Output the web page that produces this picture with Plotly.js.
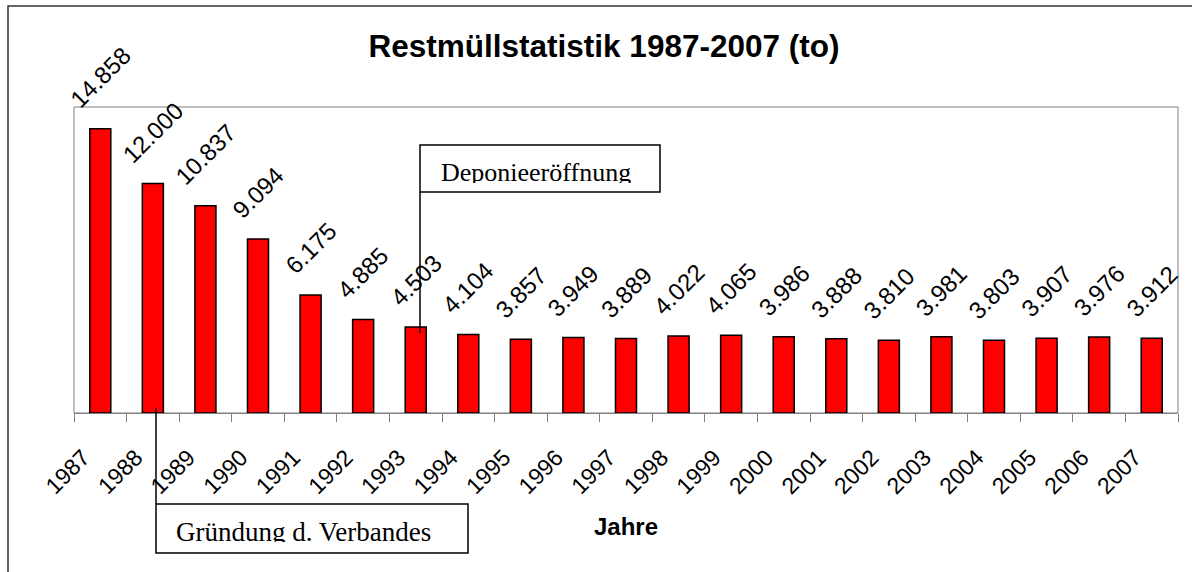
<!DOCTYPE html>
<html>
<head>
<meta charset="utf-8">
<script src="https://cdn.plot.ly/plotly-3.0.1.min.js"></script>
<style>html,body{margin:0;padding:0;background:#fff;}#chart{width:1192px;height:572px;}</style>
</head>
<body>
<div id="chart"></div>
<script>
// ---- data ----
const years = ["1987","1988","1989","1990","1991","1992","1993","1994","1995","1996","1997",
               "1998","1999","2000","2001","2002","2003","2004","2005","2006","2007"];
const restmuell = [14858, 12000, 10837, 9094, 6175, 4885, 4503, 4104, 3857, 3949, 3889,
                   4022, 4065, 3986, 3888, 3810, 3981, 3803, 3907, 3976, 3912];
const chartTitle = "Restmüllstatistik 1987-2007 (to)";
const xTitle = "Jahre";
const noteDeponie = "Deponieeröffnung";
const noteVerband = "Gründung d. Verbandes";

// ---- helpers ----
const SANS = "Liberation Sans, Arial, sans-serif";
const SERIF = "Liberation Serif, Times New Roman, serif";
const fmt = v => String(v).replace(/\B(?=(\d{3})+(?!\d))/g, ".");

// plot area in px: x 74..1178, y 107..413
const PL = 74, PW = 1104, PB = 413, PH = 306;
const px = x => (x - PL) / PW;
const py = y => (PB - y) / PH;

const trace = {
  type: "bar",
  x: years,
  y: restmuell,
  marker: {color: "#ff0000", line: {color: "#000000", width: 1.5}},
  hoverinfo: "skip"
};

// category axis: annotation x given as category index
const valueLabels = years.map((yr, i) => ({
  x: i, y: restmuell[i], xref: "x", yref: "y",
  text: fmt(restmuell[i]), showarrow: false, textangle: -45,
  xanchor: "center", yanchor: "bottom", yshift: 13,
  font: {family: SANS, size: 24, color: "#000"}
}));

const noteLabels = [
  {xref: "paper", yref: "paper", x: px(440), y: py(157), xanchor: "left", yanchor: "top",
   text: noteDeponie, showarrow: false, height: 25, valign: "top", borderpad: 0,
   font: {family: SERIF, size: 26, color: "#000"}},
  {xref: "paper", yref: "paper", x: px(175), y: py(516), xanchor: "left", yanchor: "top",
   text: noteVerband, showarrow: false, height: 25, valign: "top", borderpad: 0,
   font: {family: SERIF, size: 27, color: "#000"}}
];

const shapes = [
  // outer chart border
  {type: "rect", xref: "paper", yref: "paper", x0: px(8), x1: px(1200), y0: py(590), y1: py(6),
   line: {color: "#333333", width: 1.5}, fillcolor: "rgba(0,0,0,0)", layer: "below"},
  // plot area border
  {type: "rect", xref: "paper", yref: "paper", x0: 0, x1: 1, y0: 0, y1: 1,
   line: {color: "#808080", width: 1}, fillcolor: "rgba(0,0,0,0)", layer: "below"},
  // Deponie box + leader
  {type: "rect", xref: "paper", yref: "paper", x0: px(420), x1: px(660), y0: py(192), y1: py(145),
   line: {color: "#000", width: 1.5}, fillcolor: "rgba(0,0,0,0)"},
  {type: "line", xref: "paper", yref: "paper", x0: px(420), x1: px(420), y0: py(192), y1: py(333),
   line: {color: "#000", width: 1.5}},
  // Verband box + leader
  {type: "rect", xref: "paper", yref: "paper", x0: px(156), x1: px(468), y0: py(553), y1: py(504),
   line: {color: "#000", width: 1.5}, fillcolor: "rgba(0,0,0,0)"},
  {type: "line", xref: "paper", yref: "paper", x0: px(156), x1: px(156), y0: py(408), y1: py(504),
   line: {color: "#000", width: 1.5}}
];

const layout = {
  width: 1192, height: 572,
  margin: {l: 74, r: 14, t: 107, b: 159, pad: 0},
  paper_bgcolor: "#ffffff", plot_bgcolor: "#ffffff",
  showlegend: false,
  bargap: 0.6,
  font: {family: SANS, color: "#000"},
  title: {text: "<b>" + chartTitle + "</b>", font: {family: SANS, size: 31.5, color: "#000"},
          xref: "container", yref: "container", x: 604/1192, xanchor: "center",
          y: 1 - 46/572, yanchor: "middle"},
  xaxis: {
    type: "category", categoryorder: "array", categoryarray: years,
    range: [-0.5, years.length - 0.5],
    tickson: "boundaries", ticks: "outside", ticklen: 8, tickwidth: 1, tickcolor: "#808080",
    showline: true, linecolor: "#808080", linewidth: 1, showgrid: false, zeroline: false,
    tickangle: -45, tickfont: {family: SANS, size: 23, color: "#000"},
    ticklabelstandoff: 21, ticklabelshift: -17,
    title: {text: "<b>" + xTitle + "</b>", font: {family: SANS, size: 24, color: "#000"}, standoff: 20},
    automargin: false, fixedrange: true
  },
  yaxis: {range: [0, 16000], visible: false, showgrid: false, zeroline: false, fixedrange: true},
  annotations: valueLabels.concat(noteLabels),
  shapes: shapes
};

Plotly.newPlot("chart", [trace], layout, {staticPlot: true, displayModeBar: false});
</script>
</body>
</html>
